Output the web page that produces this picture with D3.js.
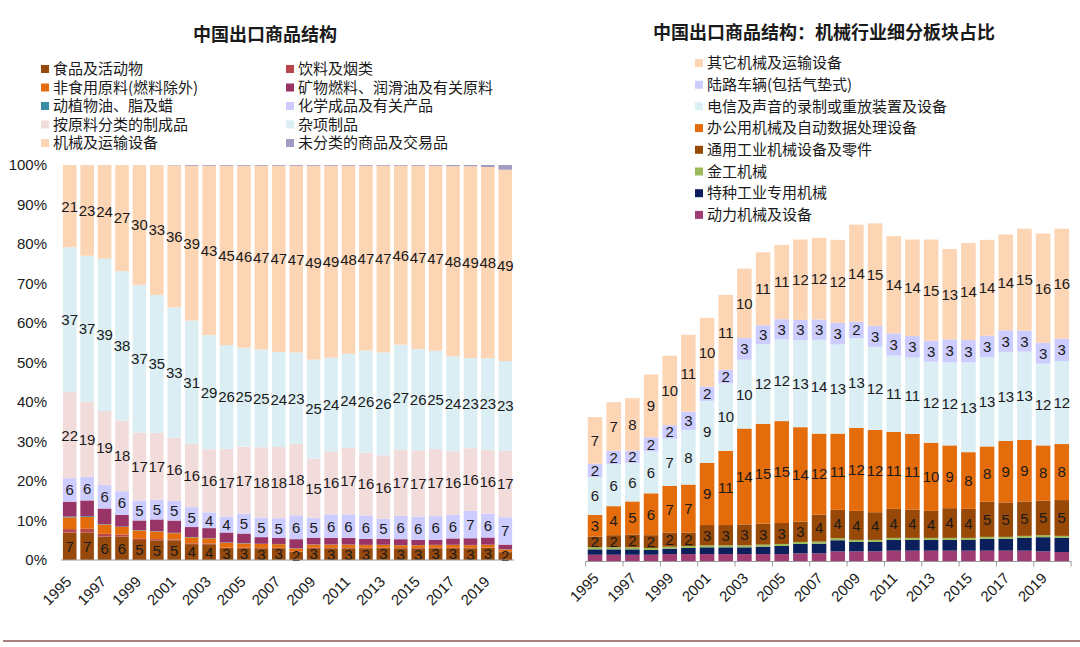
<!DOCTYPE html>
<html>
<head>
<meta charset="utf-8">
<script src="https://cdn.jsdelivr.net/npm/d3@7/dist/d3.min.js"></script>
<style>
  body { margin: 0; background: #fff; }
  svg text { fill: #1a1a1a; }
  .cjk { font-family: "Noto Sans CJK SC", sans-serif; }
  .num { font-family: "Liberation Sans", Arial, sans-serif; }
</style>
</head>
<body>
<svg id="chart" width="1080" height="647"></svg>
<script>
// categories
const years = [1995, 1996, 1997, 1998, 1999, 2000, 2001, 2002, 2003, 2004, 2005, 2006, 2007,
  2008, 2009, 2010, 2011, 2012, 2013, 2014, 2015, 2016, 2017, 2018, 2019, 2020];
const tickYears = [1995, 1997, 1999, 2001, 2003, 2005, 2007, 2009, 2011, 2013, 2015, 2017, 2019];

// left chart: export structure, % of total
const food  = [7, 7, 6, 6, 5, 5, 5, 4, 4, 3, 3, 3, 3, 2, 3, 3, 3, 3, 3, 3, 3, 3, 3, 3, 3, 2];
const bev   = [0.9, 0.9, 0.7, 0.5, 0.3, 0.3, 0.2, 0.2, 0.2, 0.1, 0.1, 0.1, 0.1, 0.1, 0.1, 0.1, 0.1, 0.1, 0.1, 0.1, 0.1, 0.1, 0.1, 0.1, 0.1, 0.1];
const crude = [3.0, 3.0, 2.4, 1.9, 2.1, 1.9, 1.6, 1.5, 1.3, 1.2, 1.1, 1.0, 0.9, 0.8, 0.8, 0.8, 0.8, 0.7, 0.7, 0.7, 0.7, 0.7, 0.7, 0.7, 0.7, 0.6];
const oils  = [0.2, 0.2, 0.1, 0.1, 0.1, 0.1, 0.1, 0.1, 0.1, 0.1, 0.1, 0.05, 0.05, 0.05, 0.05, 0.05, 0.05, 0.05, 0.05, 0.05, 0.05, 0.05, 0.05, 0.05, 0.05, 0.05];
const fuel  = [3.8, 4.0, 4.0, 3.0, 2.4, 3.0, 3.1, 2.5, 2.5, 2.5, 2.4, 1.7, 1.5, 2.3, 1.7, 1.7, 1.7, 1.5, 1.5, 1.5, 1.3, 1.3, 1.6, 1.7, 1.8, 1.2];
const chem  = [6, 6, 6, 6, 5, 5, 5, 5, 4, 4, 5, 5, 5, 6, 5, 6, 6, 6, 5, 6, 6, 6, 6, 7, 6, 7];
const manuf = [22, 19, 19, 18, 17, 17, 16, 16, 16, 17, 17, 18, 18, 18, 15, 16, 17, 16, 16, 17, 17, 17, 16, 16, 16, 17];
const misc  = [37, 37, 39, 38, 37, 35, 33, 31, 29, 26, 25, 25, 24, 23, 25, 24, 24, 26, 26, 27, 26, 25, 24, 23, 23, 23];
const mach  = [21, 23, 24, 27, 30, 33, 36, 39, 43, 45, 46, 47, 47, 47, 49, 49, 48, 47, 47, 46, 47, 47, 48, 49, 48, 49];
const uncl  = [0, 0, 0, 0, 0, 0, 0.1, 0.2, 0.2, 0.2, 0.2, 0.2, 0.2, 0.2, 0.2, 0.2, 0.2, 0.2, 0.2, 0.2, 0.2, 0.2, 0.3, 0.3, 0.5, 1.2];

// right chart: machinery sub-sectors, % of total exports
const power   = [1.0, 1.0, 1.0, 1.0, 1.1, 1.1, 1.1, 1.1, 1.1, 1.1, 1.1, 1.2, 1.2, 1.5, 1.5, 1.5, 1.6, 1.6, 1.6, 1.6, 1.6, 1.6, 1.6, 1.6, 1.5, 1.4];
const special = [0.8, 0.8, 0.8, 0.7, 0.8, 0.9, 1.0, 1.0, 1.0, 1.1, 1.2, 1.4, 1.45, 1.65, 1.4, 1.4, 1.6, 1.6, 1.6, 1.6, 1.6, 1.75, 1.75, 1.9, 2.1, 2.1];
const metal   = [0.3, 0.3, 0.3, 0.3, 0.3, 0.3, 0.3, 0.3, 0.3, 0.3, 0.3, 0.3, 0.3, 0.3, 0.3, 0.3, 0.3, 0.3, 0.3, 0.3, 0.3, 0.3, 0.3, 0.3, 0.3, 0.3];
const general = [1.6, 1.8, 1.9, 1.9, 2.1, 2.0, 3.0, 3.0, 3.1, 3.1, 3.1, 3.0, 4.0, 4.2, 4.3, 4.1, 4.3, 4.2, 4.0, 4.4, 4.3, 5.2, 5.1, 5.1, 5.1, 5.3];
const office  = [3.2, 4.3, 4.9, 6.2, 6.9, 7.1, 9.2, 11.0, 14.2, 14.8, 15.1, 14.0, 12.0, 11.3, 12.3, 12.2, 11.4, 11.2, 10.1, 9.3, 8.4, 8.2, 9.1, 9.1, 8.2, 8.3];
const telecom = [5.6, 6.2, 5.7, 6.2, 7.0, 8.1, 9.2, 10.0, 10.2, 11.8, 12.1, 12.9, 13.9, 13.2, 13.3, 12.3, 11.3, 11.3, 12.0, 12.3, 13.3, 13.2, 13.2, 13.1, 12.1, 12.3];
const road    = [2.0, 2.0, 1.8, 2.1, 2.0, 2.7, 2.1, 2.0, 3.2, 2.8, 3.0, 3.0, 3.0, 3.2, 2.4, 3.1, 3.3, 3.2, 3.1, 3.4, 3.3, 3.2, 3.2, 3.1, 3.1, 3.3];
const other   = [6.9, 7.2, 7.8, 9.3, 10.3, 11.4, 10.2, 11.1, 10.3, 10.8, 11.0, 11.9, 12.1, 12.3, 14.4, 15.2, 14.4, 14.3, 15.0, 13.4, 14.4, 14.2, 14.2, 15.1, 16.2, 16.3];

// series definitions (stack order bottom -> top)
const leftSeries = [
  { key: "food",  name: "食品及活动物", color: "#974a0c", values: food, label: true },
  { key: "bev",   name: "饮料及烟类", color: "#b9474a", values: bev },
  { key: "crude", name: "非食用原料(燃料除外)", color: "#e46c0a", values: crude },
  { key: "oils",  name: "动植物油、脂及蜡", color: "#3a8ea6", values: oils },
  { key: "fuel",  name: "矿物燃料、润滑油及有关原料", color: "#983466", values: fuel },
  { key: "chem",  name: "化学成品及有关产品", color: "#ccccff", values: chem, label: true },
  { key: "manuf", name: "按原料分类的制成品", color: "#f2dcdb", values: manuf, label: true },
  { key: "misc",  name: "杂项制品", color: "#daeef3", values: misc, label: true },
  { key: "mach",  name: "机械及运输设备", color: "#fcd5b5", values: mach, label: true },
  { key: "uncl",  name: "未分类的商品及交易品", color: "#a29bc2", values: uncl }
];
const leftLegendOrder = ["food", "bev", "crude", "fuel", "oils", "chem", "manuf", "misc", "mach", "uncl"];

const rightSeries = [
  { key: "power",   name: "动力机械及设备", color: "#a03c74", values: power },
  { key: "special", name: "特种工业专用机械", color: "#0a1f5c", values: special },
  { key: "metal",   name: "金工机械", color: "#9bbb59", values: metal },
  { key: "general", name: "通用工业机械设备及零件", color: "#984807", values: general, label: true },
  { key: "office",  name: "办公用机械及自动数据处理设备", color: "#e46c0a", values: office, label: true },
  { key: "telecom", name: "电信及声音的录制或重放装置及设备", color: "#daeef3", values: telecom, label: true },
  { key: "road",    name: "陆路车辆(包括气垫式)", color: "#ccccff", values: road, label: true },
  { key: "other",   name: "其它机械及运输设备", color: "#fcd5b5", values: other, label: true }
];

const svg = d3.select("#chart");

function makeTable(series) {
  return years.map((yr, i) => {
    const row = { year: yr };
    series.forEach(s => { row[s.key] = s.values[i]; });
    return row;
  });
}

function drawBars(g, series, stacked, xScale, yScale) {
  const layers = g.selectAll("g.layer")
    .data(stacked)
    .join("g")
    .attr("class", "layer")
    .attr("fill", d => series[d.index].color);

  layers.selectAll("rect")
    .data(d => d)
    .join("rect")
    .attr("x", d => xScale(d.data.year))
    .attr("width", xScale.bandwidth())
    .attr("y", d => yScale(d[1]))
    .attr("height", d => Math.max(0, yScale(d[0]) - yScale(d[1])));

  // value labels in the middle of each labelled segment
  stacked.filter(l => series[l.index].label).forEach(l => {
    const s = series[l.index];
    g.append("g").selectAll("text")
      .data(l)
      .join("text")
      .attr("class", "num")
      .attr("x", d => xScale(d.data.year) + xScale.bandwidth() / 2)
      .attr("y", d => (yScale(d[0]) + yScale(d[1])) / 2)
      .attr("dy", "0.36em")
      .attr("text-anchor", "middle")
      .attr("font-size", 15)
      .text(d => Math.round(d.data[s.key]));
  });
}

function yearAxis(g, xScale, baseY, dx, dy) {
  const ax = g.append("g")
    .attr("transform", `translate(0, ${baseY})`)
    .call(d3.axisBottom(xScale).tickValues(tickYears).tickSize(0).tickFormat(d3.format("d")));
  ax.select(".domain").remove();
  ax.selectAll("text")
    .attr("class", "num")
    .attr("font-size", 15)
    .attr("x", 0)
    .attr("y", 0)
    .attr("dy", "0.35em")
    .attr("transform", `translate(${dx}, ${dy}) rotate(-45)`)
    .style("text-anchor", "end")
    .style("fill", "#1a1a1a");
}

// ---------- left chart ----------
const leftTable = makeTable(leftSeries);
const leftStack = d3.stack()
  .keys(leftSeries.map(s => s.key))
  .offset(d3.stackOffsetExpand)(leftTable);

const xLeft = d3.scaleBand()
  .domain(years)
  .range([61, 514])
  .paddingInner(0.22)
  .paddingOuter(0.11);

const yLeft = d3.scaleLinear()
  .domain([0, 1])
  .range([560, 165]);

const gLeft = svg.append("g");
drawBars(gLeft, leftSeries, leftStack, xLeft, yLeft);

gLeft.append("line")
  .attr("x1", 61).attr("x2", 514)
  .attr("y1", yLeft(0)).attr("y2", yLeft(0))
  .attr("stroke", "#9a9a9a");

const yAxisLeft = gLeft.append("g")
  .attr("transform", "translate(50, 0)")
  .call(d3.axisLeft(yLeft).ticks(10).tickFormat(d3.format(".0%")).tickSize(0).tickPadding(3));
yAxisLeft.select(".domain").remove();
yAxisLeft.selectAll("text")
  .attr("class", "num")
  .attr("font-size", 15)
  .style("fill", "#1a1a1a");

yearAxis(gLeft, xLeft, 560, -1, 19);

svg.append("text")
  .attr("class", "cjk")
  .attr("x", 265).attr("y", 35)
  .attr("dy", "0.35em")
  .attr("text-anchor", "middle")
  .attr("font-size", 18)
  .attr("font-weight", "bold")
  .text("中国出口商品结构");

// legend, two columns
const leftLegend = svg.append("g").selectAll("g")
  .data(leftLegendOrder.map(k => leftSeries.find(s => s.key === k)))
  .join("g")
  .attr("transform", (d, i) => `translate(${i % 2 === 0 ? 41 : 286}, ${69 + Math.floor(i / 2) * 18.5})`);
leftLegend.append("rect")
  .attr("x", 0).attr("y", -4)
  .attr("width", 8).attr("height", 8)
  .attr("fill", d => d.color);
leftLegend.append("text")
  .attr("class", "cjk")
  .attr("x", 12).attr("dy", "0.35em")
  .attr("font-size", 15)
  .text(d => d.name);

// ---------- right chart ----------
const rightTable = makeTable(rightSeries);
const rightStack = d3.stack()
  .keys(rightSeries.map(s => s.key))(rightTable);

const xRight = d3.scaleBand()
  .domain(years)
  .range([585.7, 1071.1])
  .paddingInner(0.22)
  .paddingOuter(0.11);

const yRight = d3.scaleLinear()
  .domain([0, 60])
  .range([561.5, 156.5]);

const gRight = svg.append("g");
drawBars(gRight, rightSeries, rightStack, xRight, yRight);

gRight.append("line")
  .attr("x1", 585.7).attr("x2", 1071.1)
  .attr("y1", yRight(0)).attr("y2", yRight(0))
  .attr("stroke", "#9a9a9a");

// tick marks between every second category
const boundaryYears = years.filter((d, i) => i % 2 === 0);
gRight.append("g").selectAll("line")
  .data(boundaryYears.concat(["end"]))
  .join("line")
  .attr("x1", d => d === "end" ? 1071.1 : xRight(d) - xRight.step() * xRight.paddingInner() / 2)
  .attr("x2", d => d === "end" ? 1071.1 : xRight(d) - xRight.step() * xRight.paddingInner() / 2)
  .attr("y1", yRight(0)).attr("y2", yRight(0) + 5)
  .attr("stroke", "#9a9a9a");

yearAxis(gRight, xRight, 561.5, 1, 14);

svg.append("text")
  .attr("class", "cjk")
  .attr("x", 824).attr("y", 33)
  .attr("dy", "0.35em")
  .attr("text-anchor", "middle")
  .attr("font-size", 18)
  .attr("font-weight", "bold")
  .text("中国出口商品结构：机械行业细分板块占比");

const rightLegend = svg.append("g").selectAll("g")
  .data(rightSeries.slice().reverse())
  .join("g")
  .attr("transform", (d, i) => `translate(695, ${63 + i * 21.7})`);
rightLegend.append("rect")
  .attr("x", 0).attr("y", -4)
  .attr("width", 8).attr("height", 8)
  .attr("fill", d => d.color);
rightLegend.append("text")
  .attr("class", "cjk")
  .attr("x", 12).attr("dy", "0.35em")
  .attr("font-size", 15)
  .text(d => d.name);

// bottom rule
svg.append("line")
  .attr("x1", 3).attr("x2", 1080)
  .attr("y1", 641).attr("y2", 641)
  .attr("stroke", "#a98080")
  .attr("stroke-width", 2);
</script>
</body>
</html>
